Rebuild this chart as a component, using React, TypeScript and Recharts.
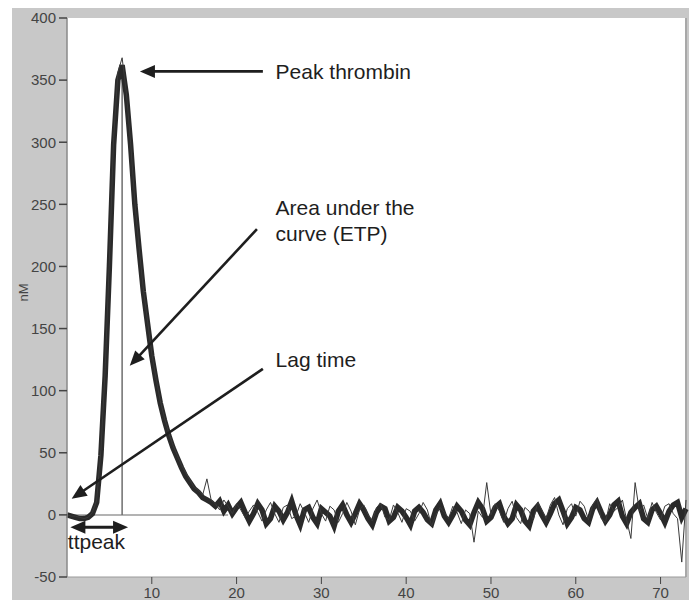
import {
  LineChart,
  Line,
  XAxis,
  YAxis,
  CartesianGrid,
  ReferenceLine,
  ReferenceDot,
} from "recharts"

// time in minutes, sampled every half minute
const minutes = [
  0, 0.5, 1, 1.5, 2, 2.5, 3, 3.5, 4, 4.5,
  5, 5.5, 6, 6.5, 7, 7.5, 8, 8.5, 9, 9.5,
  10, 10.5, 11, 11.5, 12, 12.5, 13, 13.5, 14, 14.5,
  15, 15.5, 16, 16.5, 17, 17.5, 18, 18.5, 19, 19.5,
  20, 20.5, 21, 21.5, 22, 22.5, 23, 23.5, 24, 24.5,
  25, 25.5, 26, 26.5, 27, 27.5, 28, 28.5, 29, 29.5,
  30, 30.5, 31, 31.5, 32, 32.5, 33, 33.5, 34, 34.5,
  35, 35.5, 36, 36.5, 37, 37.5, 38, 38.5, 39, 39.5,
  40, 40.5, 41, 41.5, 42, 42.5, 43, 43.5, 44, 44.5,
  45, 45.5, 46, 46.5, 47, 47.5, 48, 48.5, 49, 49.5,
  50, 50.5, 51, 51.5, 52, 52.5, 53, 53.5, 54, 54.5,
  55, 55.5, 56, 56.5, 57, 57.5, 58, 58.5, 59, 59.5,
  60, 60.5, 61, 61.5, 62, 62.5, 63, 63.5, 64, 64.5,
  65, 65.5, 66, 66.5, 67, 67.5, 68, 68.5, 69, 69.5,
  70, 70.5, 71, 71.5, 72, 72.5, 73,
]

// thrombin (nM), averaged run - the thick trace
const runA = [
  0, -1, -2, -3, -3, -2, 1, 10, 48, 112,
  200, 298, 350, 362, 338, 298, 250, 214, 180, 154,
  128, 108, 90, 76, 64, 54, 46, 38, 31, 26,
  21, 18, 14, 12, 10, 7, 11, 3, 8, 1,
  6, 10, 2, -5, 1, 9, 4, -7, -3, 7,
  3, -4, 2, 11, 0, -8, 4, 6, -2, -7,
  5, 2, -1, -9, 3, 8, 0, -6, 1, 9,
  4, -3, -8, 2, 7, 5, -5, -2, 6, 3,
  -2, -8, 3, 6, 2, -4, -7, 4, 9, -1,
  -6, 0, 7, 3, -4, -8, 2, 10, 5, -5,
  -2, 6, 9, -1, -7, -3, 8, 4, -5, -9,
  3, 7, 0, -6, 1, 9, 12, 3, -7, -2,
  6, 4, -3, -6, 5, 10, 2, -5, 0, 8,
  11, -1, -7, 2, 6, 9, -3, -6, 4, 7,
  1, -6, 3, 8, 10, -2, 5,
]

// single replicate - the thin trace
const runB = [
  0, -1, -1, -2, -3, -2, 2, 12, 52, 118,
  206, 304, 356, 368, 340, 300, 252, 216, 182, 156,
  130, 110, 92, 78, 66, 56, 48, 40, 34, 28,
  22, 20, 16, 29, 12, 9, 4, 12, 7, 1,
  9, 4, -2, 3, 8, 2, -5, 4, 10, 1,
  -6, 6, 8, -3, -1, 9, 2, -6, 5, 12,
  1, -5, 7, 4, -6, 1, 10, 3, -8, 4,
  8, 0, -5, 6, 9, -2, -4, 8, 2, -6,
  5, 3, -5, 1, 10, 4, -9, 0, 6, 2,
  -3, 7, 2, -7, 4, 1, -22, 3, -2, 26,
  0, 9, 3, -6, 5, 11, -2, -7, 6, 3,
  -4, 10, 4, -3, 8, 14, 0, -8, 5, 9,
  -1, 11, 7, -4, 8, 13, -3, -6, 9, 3,
  6, 12, -4, -19, 26, 3, 8, -3, 10, 2,
  -4, 7, 9, 1, -3, -38, 12,
]

const yTicks = [-50, 0, 50, 100, 150, 200, 250, 300, 350, 400]
const xTicks = [10, 20, 30, 40, 50, 60, 70]

const data = minutes.map((m, i) => ({ m, a: runA[i], b: runB[i] }))

const FONT = "Arial, 'Liberation Sans', sans-serif"
const INK = "#1e1e1e"

function arrowHead(x: number, y: number, fromX: number, fromY: number) {
  const len = 15
  const half = 6.5
  const dx = x - fromX
  const dy = y - fromY
  const d = Math.hypot(dx, dy) || 1
  const ux = dx / d
  const uy = dy / d
  const bx = x - ux * len
  const by = y - uy * len
  return `${x},${y} ${bx - uy * half},${by + ux * half} ${bx + uy * half},${by - ux * half}`
}

function Arrow(props: any) {
  const { x1, y1, x2, y2 } = props
  const d = Math.hypot(x2 - x1, y2 - y1) || 1
  const ex = x2 - ((x2 - x1) / d) * 12
  const ey = y2 - ((y2 - y1) / d) * 12
  return (
    <g>
      <line x1={x1} y1={y1} x2={ex} y2={ey} stroke={INK} strokeWidth={2.6} />
      <polygon points={arrowHead(x2, y2, x1, y1)} fill={INK} />
    </g>
  )
}

function DoubleArrow(props: any) {
  const { x1, y1, x2, y2 } = props
  return (
    <g>
      <line x1={x1 + 10} y1={y1} x2={x2 - 10} y2={y2} stroke={INK} strokeWidth={3} />
      <polygon points={arrowHead(x1, y1, x2, y2)} fill={INK} />
      <polygon points={arrowHead(x2, y2, x1, y1)} fill={INK} />
    </g>
  )
}

const note = (lines: string[]) => (p: any) => (
  <text x={p.cx} y={p.cy} fill={INK} fontSize={21} fontFamily={FONT}>
    {lines.map((l, i) => (
      <tspan key={l} x={p.cx} dy={i === 0 ? 0 : 26}>
        {l}
      </tspan>
    ))}
  </text>
)

export default function App() {
  return (
    <div
      style={{
        position: "fixed",
        left: 12,
        top: 8,
        width: 677,
        height: 592,
        background: "#c8c8c8",
      }}
    >
      <LineChart
        width={677}
        height={592}
        data={data}
        margin={{ top: 10, right: 3, left: 0, bottom: 0 }}
      >
        <CartesianGrid horizontal={false} vertical={false} fill="#ffffff" />
        <XAxis
          dataKey="m"
          type="number"
          domain={[0, 73]}
          ticks={xTicks}
          height={23}
          tickSize={7}
          tickMargin={3}
          interval={0}
          axisLine={{ stroke: "#9a9a9a" }}
          tickLine={{ stroke: "#444" }}
          tick={{ fill: "#444", fontSize: 15, fontFamily: FONT }}
        />
        <YAxis
          type="number"
          domain={[-50, 400]}
          ticks={yTicks}
          width={55}
          tickSize={8}
          tickMargin={3}
          interval={0}
          axisLine={{ stroke: "#8a8a8a", strokeWidth: 1.5 }}
          tickLine={{ stroke: "#444", strokeWidth: 1.5 }}
          tick={{ fill: "#444", fontSize: 15, fontFamily: FONT }}
          label={{
            content: ({ viewBox }: any) => {
              const x = viewBox.x + 11
              const y = viewBox.y + viewBox.height / 2 - 5
              return (
                <text
                  x={x}
                  y={y}
                  transform={`rotate(-90, ${x}, ${y})`}
                  textAnchor="middle"
                  dominantBaseline="central"
                  fill="#444"
                  fontSize={13}
                  fontFamily={FONT}
                >
                  nM
                </text>
              )
            },
          }}
        />
        <ReferenceLine x={73} stroke="#a8a8a8" strokeWidth={2} />
        <ReferenceLine
          segment={[
            { x: 0, y: 0 },
            { x: 19, y: 0 },
          ]}
          stroke="#9a9a9a"
          strokeWidth={1.5}
        />
        <ReferenceLine
          segment={[
            { x: 6.5, y: 0 },
            { x: 6.5, y: 362 },
          ]}
          stroke="#6e6e6e"
          strokeWidth={1.5}
        />
        <Line
          type="linear"
          dataKey="a"
          stroke="#2a2a2a"
          strokeWidth={5.5}
          dot={false}
          activeDot={false}
          isAnimationActive={false}
        />
        <Line
          type="linear"
          dataKey="b"
          stroke="#3a3a3a"
          strokeWidth={1}
          dot={false}
          activeDot={false}
          isAnimationActive={false}
        />
        <ReferenceLine
          segment={[
            { x: 23.1, y: 357 },
            { x: 8.6, y: 357 },
          ]}
          shape={Arrow}
        />
        <ReferenceLine
          segment={[
            { x: 22.4, y: 230 },
            { x: 7.4, y: 120 },
          ]}
          shape={Arrow}
        />
        <ReferenceLine
          segment={[
            { x: 23.1, y: 117.5 },
            { x: 0.55, y: 13 },
          ]}
          shape={Arrow}
        />
        <ReferenceLine
          segment={[
            { x: 0.4, y: -10 },
            { x: 7.2, y: -10 },
          ]}
          shape={DoubleArrow}
        />
        <ReferenceDot x={24.6} y={351} r={0} shape={note(["Peak thrombin"])} />
        <ReferenceDot
          x={24.6}
          y={241.5}
          r={0}
          shape={note(["Area under the", "curve (ETP)"])}
        />
        <ReferenceDot x={24.6} y={119} r={0} shape={note(["Lag time"])} />
        <ReferenceDot x={0.1} y={-27.4} r={0} shape={note(["ttpeak"])} />
      </LineChart>
    </div>
  )
}
